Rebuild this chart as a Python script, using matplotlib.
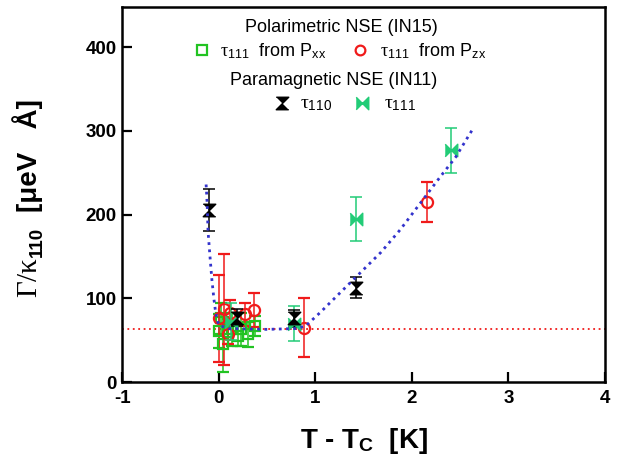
import numpy as np
import matplotlib

matplotlib.use("Agg")
import matplotlib.pyplot as plt

plt.rcParams["font.family"] = ["Liberation Sans", "DejaVu Sans"]
plt.rcParams["axes.unicode_minus"] = False
plt.rcParams["mathtext.fontset"] = "custom"
plt.rcParams["mathtext.rm"] = "Liberation Serif"
plt.rcParams["mathtext.it"] = "Liberation Serif"
plt.rcParams["mathtext.bf"] = "Liberation Sans:bold"
plt.rcParams["mathtext.sf"] = "Liberation Sans"

# Polarimetric NSE (IN15): tau_111 from Pxx
pxx_x = [0.00, 0.04, 0.02, 0.10, 0.14, 0.20, 0.23, 0.30, 0.38]
pxx_y = [61, 45, 76, 60, 63, 55, 63, 57, 67]
pxx_err = [20, 33, 18, 15, 20, 12, 20, 15, 12]

# Polarimetric NSE (IN15): tau_111 from Pzx
pzx_x = [0.00, 0.05, 0.10, 0.12, 0.27, 0.37, 0.88, 2.16]
pzx_y = [76, 87, 57, 83, 81, 86, 65, 215]
pzx_err = [52, 66, 12, 15, 14, 20, 35, 24]

# Paramagnetic NSE (IN11)
t110_x = [-0.10, 0.19, 0.78, 1.42]
t110_y = [206, 77, 76, 113]
t110_err = [25, 10, 10, 13]

t111_x = [0.13, 0.78, 1.42, 2.41]
t111_y = [72, 70, 195, 277]
t111_err = [22, 21, 26, 27]

# dotted guide curve
fit_x = [-0.13, -0.12, -0.11, -0.09, -0.07, -0.05, -0.03, 0.00, 0.10, 0.50,
         0.80, 0.90, 1.05, 1.26, 1.47, 1.68, 1.88, 2.09, 2.30, 2.45, 2.63]
fit_y = [236, 215, 180, 150, 122, 100, 82, 68, 64, 63,
         64, 67, 83, 107, 131, 155, 182, 214, 246, 268, 302]
baseline = 63

GREEN = "#22c322"
RED = "#f01a1a"
TEAL = "#22cc77"
BLUE = "#3333cc"

hourglass = [(-1, 1), (1, 1), (-1, -1), (1, -1)]
bowtie = [(-1, 1), (1, -1), (1, 1), (-1, -1)]

fig = plt.figure(figsize=(6.23, 4.66), dpi=100)
ax = fig.add_axes([0.196, 0.180, 0.775, 0.805])

ax.axhline(baseline, color=RED, ls=(0, (1, 2)), lw=1.3, zorder=1)
ax.plot(fit_x, fit_y, color=BLUE, ls=(0, (1, 1.6)), lw=2.0, zorder=5)

eb = dict(capsize=4.5, elinewidth=1.1, capthick=1.1, ls="none")
ax.errorbar(pxx_x, pxx_y, yerr=pxx_err, marker="s", ms=7, mfc="none",
            mec=GREEN, mew=1.6, color=GREEN, zorder=3, **eb)
ax.errorbar(pzx_x, pzx_y, yerr=pzx_err, marker="o", ms=8, mfc="none",
            mec=RED, mew=1.6, color=RED, zorder=3, **eb)
ax.errorbar(t111_x, t111_y, yerr=t111_err, marker=bowtie, ms=9, mfc=TEAL,
            mec=TEAL, color=TEAL, zorder=4, **eb)
ax.errorbar(t110_x, t110_y, yerr=t110_err, marker=hourglass, ms=9, mfc="black",
            mec="black", color="black", zorder=4, **eb)

ax.set_xlim(-1, 4)
ax.set_ylim(0, 448)
ax.set_xticks([-1, 0, 1, 2, 3, 4])
ax.set_yticks([0, 100, 200, 300, 400])
ax.tick_params(direction="in", length=7, width=1.6, labelsize=13.5)
ax.tick_params(axis="x", pad=6)
ax.tick_params(axis="y", pad=4)
for lab in ax.get_xticklabels() + ax.get_yticklabels():
    lab.set_fontweight("bold")
for s in ax.spines.values():
    s.set_linewidth(1.8)

ax.set_xlabel(r"T - T$_\mathbf{C}$  [K]", fontsize=20, fontweight="bold", labelpad=13)

# y label in three pieces (serif symbol, bold subscript, bold units)
ylab = dict(rotation=90, rotation_mode="anchor", ha="left", va="baseline")
fig.text(0.0594, 0.3605, r"$\mathrm{\Gamma/\kappa}$", fontsize=21, **ylab)
fig.text(0.0674, 0.4485, "110", fontsize=13.5, fontweight="bold", **ylab)
fig.text(0.0594, 0.545, "[μeV   Å]", fontsize=20, fontweight="bold", **ylab)

# legend block
tr = ax.transAxes
fs = 13
ax.text(0.455, 0.944, "Polarimetric NSE (IN15)", transform=tr, ha="center",
        va="center", fontsize=fs)
ax.plot([0.166], [0.885], transform=tr, marker="s", ms=7, mfc="none", mec=GREEN,
        mew=1.6, clip_on=False)
ax.text(0.203, 0.882, r"$\tau_{\mathsf{111}}$  from P$_{\mathsf{xx}}$", transform=tr,
        ha="left", va="center", fontsize=fs)
ax.plot([0.493], [0.885], transform=tr, marker="o", ms=7, mfc="none", mec=RED,
        mew=1.6, clip_on=False)
ax.text(0.534, 0.882, r"$\tau_{\mathsf{111}}$  from P$_{\mathsf{zx}}$", transform=tr,
        ha="left", va="center", fontsize=fs)
ax.text(0.439, 0.805, "Paramagnetic NSE (IN11)", transform=tr, ha="center",
        va="center", fontsize=fs)
ax.plot([0.331], [0.744], transform=tr, marker=hourglass, ms=9, color="black",
        clip_on=False)
ax.text(0.369, 0.740, r"$\tau_{\mathsf{110}}$", transform=tr, ha="left", va="center",
        fontsize=fs + 1)
ax.plot([0.497], [0.744], transform=tr, marker=bowtie, ms=9, color=TEAL,
        clip_on=False)
ax.text(0.542, 0.740, r"$\tau_{\mathsf{111}}$", transform=tr, ha="left", va="center",
        fontsize=fs + 1)

fig.savefig("out.png", dpi=100)
